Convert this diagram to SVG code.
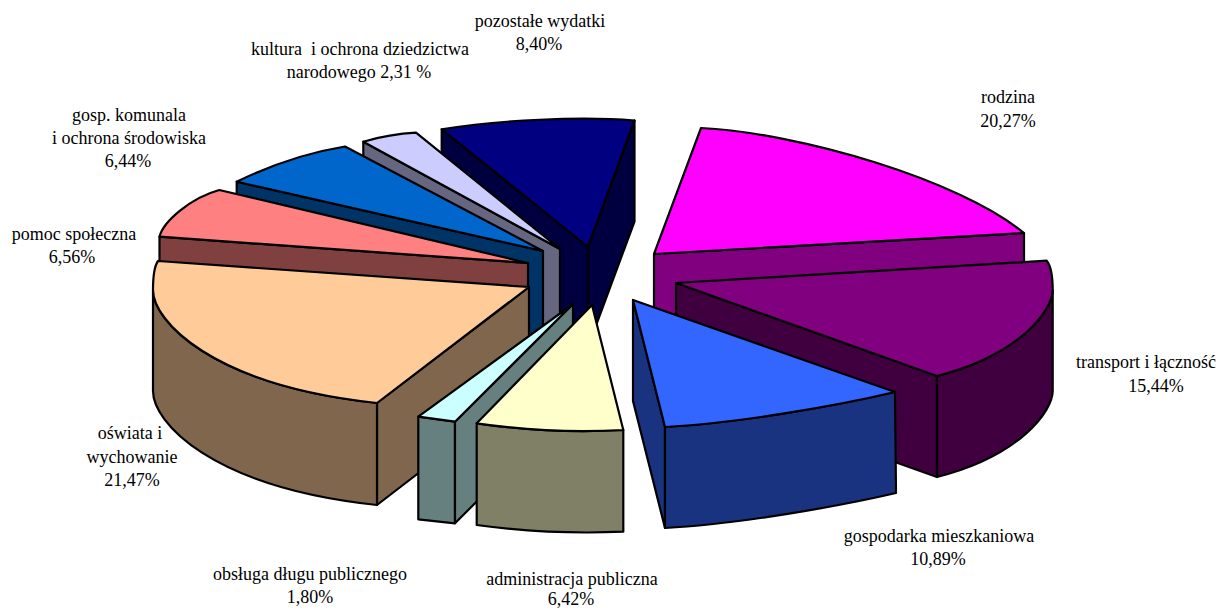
<svg xmlns="http://www.w3.org/2000/svg" width="1219" height="609" viewBox="0 0 1219 609">
<style>
.s{stroke:#000;stroke-width:2.2;stroke-linejoin:round}
.t{font-family:"Liberation Serif","Times New Roman",serif;font-size:18px;fill:#000;text-anchor:middle}
</style>
<rect width="1219" height="609" fill="#fff"/>
<g id="slice-pozostale">
<path class="s" fill="#000040" d="M441.7,129.3 L588,247 L588,347 L441.7,229.3 Z"/>
<path class="s" fill="#000040" d="M588,247 L634.5,120.5 L634.5,221.5 L588,347 Z"/>
<path class="s" fill="#000080" d="M441.7,129.3 C500,120 580,116 634.5,120.5 L588,247 Z"/>
<text class="t" x="540" y="27">pozostałe wydatki</text>
<text class="t" x="539" y="50">8,40%</text>
</g>
<g id="slice-kultura">
<path class="s" fill="#666680" d="M363.3,141.7 L560,249 L560,349 L363.3,241.7 Z"/>
<path class="s" fill="#CCCCFF" d="M560,249 L363.3,141.7 Q390,134 416,132.7 Z"/>
<text class="t" x="360" y="55" xml:space="preserve">kultura  i ochrona dziedzictwa</text>
<text class="t" x="359" y="78">narodowego 2,31 %</text>
</g>
<g id="slice-gosp-komunalna">
<path class="s" fill="#003366" d="M236.7,181.7 L543,251 L543,351 L236.7,281.7 Z"/>
<path class="s" fill="#0066CC" d="M543,251 L236.7,181.7 C265,168 305,153 345,146.5 Z"/>
<text class="t" x="129" y="121">gosp. komunala</text>
<text class="t" x="129" y="144">i ochrona środowiska</text>
<text class="t" x="128" y="167">6,44%</text>
</g>
<g id="slice-pomoc">
<path class="s" fill="#804040" d="M159.5,236.7 L528,263 L528,363 L159.5,336.7 Z"/>
<path class="s" fill="#FF8080" d="M528,263 L159.5,236.7 C163,222 190,198 219.3,190 Z"/>
<text class="t" x="74" y="240">pomoc społeczna</text>
<text class="t" x="72" y="263">6,56%</text>
</g>
<g id="slice-oswiata">
<path class="s" fill="#80664D" d="M377,403 L529,287 L529,388 L377,505 Z"/>
<path class="s" fill="#80664D" d="M153,290 C153,320 210,385 377,403 L377,505 C210,487 153,422 153,391 Z"/>
<path class="s" fill="#FFCC99" d="M529,287 L158,261 Q153,268 153,290 C153,320 210,385 377,403 Z"/>
<text class="t" x="130" y="439">oświata i</text>
<text class="t" x="132" y="463">wychowanie</text>
<text class="t" x="132" y="486">21,47%</text>
</g>
<g id="slice-rodzina">
<path class="s" fill="#800080" d="M654,254 L1024,233 L1024,334 L654,355 Z"/>
<path class="s" fill="#FF00FF" d="M654,254 L701,128 C800,133 960,180 1024,233 Z"/>
<text class="t" x="1008" y="103">rodzina</text>
<text class="t" x="1008" y="127">20,27%</text>
</g>
<g id="slice-transport">
<path class="s" fill="#400040" d="M676,283 L937,376 L937,477 L676,384 Z"/>
<path class="s" fill="#400040" d="M1052.7,290 C1052.7,310 1020,355 937,376 L937,477 C1020,456 1052.7,411 1052.7,391 Z"/>
<path class="s" fill="#800080" d="M676,283 L1046.7,260.7 Q1052.7,268 1052.7,290 C1052.7,310 1020,355 937,376 Z"/>
<text class="t" x="1146" y="368">transport i łączność</text>
<text class="t" x="1156" y="392">15,44%</text>
</g>
<g id="slice-gosp-mieszkaniowa">
<path class="s" fill="#1A3380" d="M633,300 L665,427 L665,528 L633,401 Z"/>
<path class="s" fill="#1A3380" d="M665,427 C740,423 840,405 895,392 L896,493 C840,506 740,524 665,528 Z"/>
<path class="s" fill="#3366FF" d="M633,300 L665,427 C740,423 840,405 895,392 Z"/>
<text class="t" x="939" y="542">gospodarka mieszkaniowa</text>
<text class="t" x="938" y="565">10,89%</text>
</g>
<g id="slice-obsluga-dlugu">
<path class="s" fill="#668080" d="M418.3,416.7 L455,421.7 L455,523.3 L418.3,519.3 Z"/>
<path class="s" fill="#668080" d="M455,421.7 L573,304 L573,405 L455,523.3 Z"/>
<path class="s" fill="#CCFFFF" d="M418.3,416.7 L573,304 L455,421.7 Z"/>
<text class="t" x="310" y="580">obsługa długu publicznego</text>
<text class="t" x="310" y="603">1,80%</text>
</g>
<g id="slice-administracja">
<path class="s" fill="#808066" d="M476.7,423.3 Q550,434 623.3,430 L623.3,531.7 Q550,535 476.7,525 Z"/>
<path class="s" fill="#FFFFCC" d="M592,305 L476.7,423.3 Q550,434 623.3,430 Z"/>
<text class="t" x="572" y="585">administracja publiczna</text>
<text class="t" x="571" y="605">6,42%</text>
</g>
<g id="connectors"></g>
</svg>
